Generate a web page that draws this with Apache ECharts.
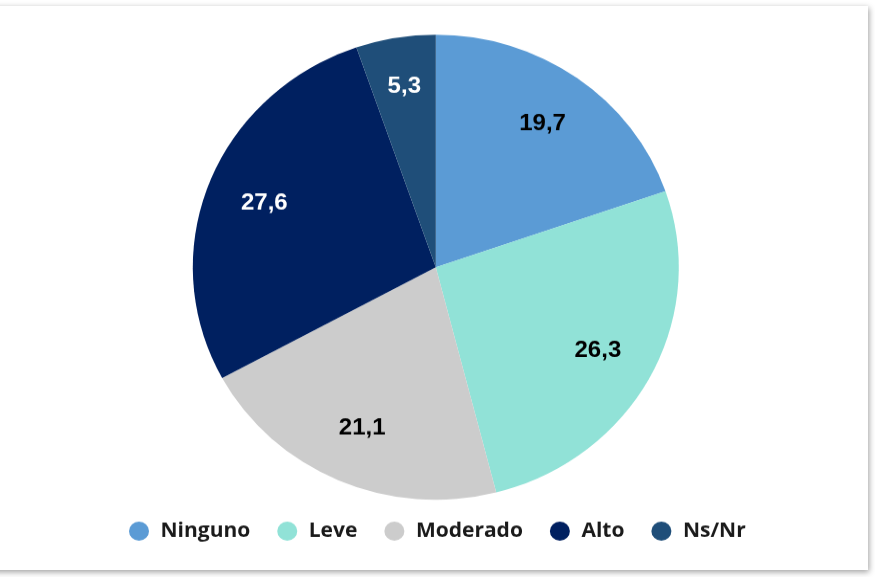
<!DOCTYPE html>
<html>
<head>
<meta charset="utf-8">
<script src="https://cdn.jsdelivr.net/npm/echarts@6/dist/echarts.min.js"></script>
<style>
  html, body { margin: 0; padding: 0; background: #ffffff; width: 875px; height: 577px; overflow: hidden; }
  #panel { position: absolute; left: -10px; top: 6px; width: 878px; height: 564px; background: #ffffff;
           box-shadow: 1px 2px 6px rgba(0,0,0,0.38); }
  #chart { position: absolute; left: 0; top: 0; width: 875px; height: 603px; transform: scaleY(0.957); transform-origin: 0 0; }
</style>
</head>
<body>
<div id="panel"></div>
<div id="chart"></div>
<script>
const categories = ['Ninguno', 'Leve', 'Moderado', 'Alto', 'Ns/Nr'];
const values = [19.7, 26.3, 21.1, 27.6, 5.3];
const colors = ['#5B9BD5', '#91E2D7', '#CCCCCC', '#002060', '#1F4E79'];
const labelColors = ['#000000', '#000000', '#000000', '#ffffff', '#ffffff'];

const chart = echarts.init(document.getElementById('chart'), null, { renderer: 'canvas' });

const fmt = p => String(p.value).replace('.', ',');

const baseData = categories.map((c, i) => ({
  name: c, value: values[i], itemStyle: { color: colors[i] }
}));
const labelData = categories.map((c, i) => {
  const d = { name: c, value: values[i], label: { color: labelColors[i] } };
  if (c === 'Ns/Nr') d.label.offset = [-1, -7];
  return d;
});

chart.setOption({
  animation: false,
  color: colors,
  legend: {
    data: categories,
    left: 124,
    top: 539,
    orient: 'horizontal',
    icon: 'circle',
    itemWidth: 33,
    itemHeight: 20,
    itemGap: 27,
    selectedMode: false,
    textStyle: { fontFamily: 'Open Sans', fontWeight: 'bold', fontSize: 21, color: '#1a1a1a', lineHeight: 22 }
  },
  series: [
    {
      type: 'pie',
      center: [435.8, 279.2],
      radius: [0, 243],
      startAngle: 90,
      clockwise: true,
      label: { show: false },
      labelLine: { show: false },
      itemStyle: { borderWidth: 0 },
      emphasis: { disabled: true },
      data: baseData
    },
    {
      type: 'pie',
      silent: true,
      legendHoverLink: false,
      center: [435.8, 279.2],
      radius: [119, 243],
      startAngle: 90,
      clockwise: true,
      itemStyle: { color: 'rgba(0,0,0,0)', borderWidth: 0 },
      label: {
        show: true,
        position: 'inside',
        formatter: fmt,
        fontFamily: 'Liberation Sans',
        fontWeight: 'bold',
        fontSize: 24
      },
      labelLine: { show: false },
      emphasis: { disabled: true },
      data: labelData
    }
  ]
});
</script>
</body>
</html>
